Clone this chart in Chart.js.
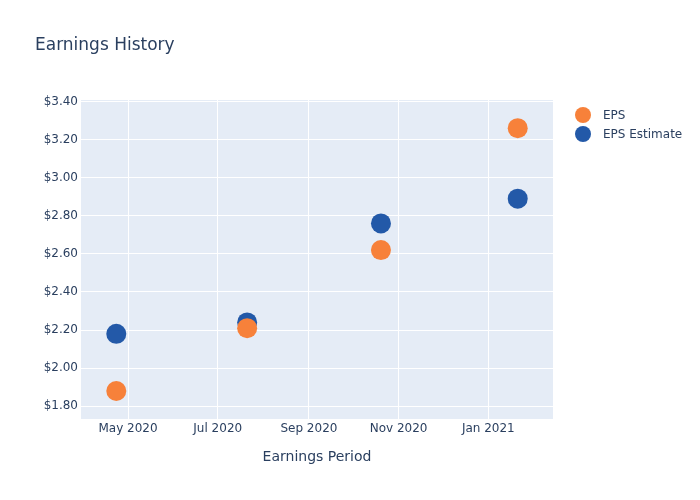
<!DOCTYPE html>
<html>
<head>
<meta charset="utf-8">
<script src="https://cdn.jsdelivr.net/npm/chart.js@4"></script>
<style>
  body{margin:0;background:#fff;}
  #wrap{width:700px;height:500px;}
</style>
</head>
<body>
<div id="wrap"><canvas id="myChart" width="700" height="500"></canvas></div>
<script>
// data
const periods = ['2020-04-23', '2020-07-21', '2020-10-20', '2021-01-21'];
const eps = [1.88, 2.21, 2.62, 3.26];
const epsEstimate = [2.18, 2.24, 2.76, 2.89];
const yTicks = [1.8, 2.0, 2.2, 2.4, 2.6, 2.8, 3.0, 3.2, 3.4];
const xTickDates = ['2020-05-01', '2020-07-01', '2020-09-01', '2020-11-01', '2021-01-01'];
const xTickLabels = ['May 2020', 'Jul 2020', 'Sep 2020', 'Nov 2020', 'Jan 2021'];

const txt = '#2a3f5f';
const font = "'DejaVu Sans', sans-serif";
const ctx = document.getElementById('myChart');

const pts = (vals) => periods.map((d, i) => ({x: Date.parse(d), y: vals[i]}));

// plot background + title + legend
const deco = {
  id: 'deco',
  beforeDraw(chart) {
    const c = chart.ctx, a = chart.chartArea;
    c.save();
    c.fillStyle = '#E5ECF6';
    c.fillRect(a.left, a.top, a.right - a.left, a.bottom - a.top);
    c.restore();
  },
  afterDraw(chart) {
    const c = chart.ctx;
    c.save();
    c.fillStyle = txt;
    c.font = '17px ' + font;
    c.textBaseline = 'middle';
    c.fillText('Earnings History', 35, 46);
    c.font = '12px ' + font;
    chart.data.datasets.forEach((ds, i) => {
      const y = 115 + i * 19;
      c.beginPath();
      c.arc(583, y, 8, 0, Math.PI * 2);
      c.fillStyle = ds.backgroundColor;
      c.fill();
      c.fillStyle = txt;
      c.fillText(ds.label, 603, y + 1);
    });
    c.restore();
  }
};

new Chart(ctx, {
  type: 'scatter',
  data: {
    datasets: [
      {label: 'EPS', data: pts(eps), backgroundColor: '#F7813A', borderWidth: 0, pointRadius: 10, pointHoverRadius: 10},
      {label: 'EPS Estimate', data: pts(epsEstimate), backgroundColor: '#2359A8', borderWidth: 0, pointRadius: 10, pointHoverRadius: 10}
    ]
  },
  options: {
    responsive: false,
    animation: false,
    layout: {padding: {top: 100, right: 147, bottom: 30, left: 0}},
    plugins: {legend: {display: false}, tooltip: {enabled: false}},
    scales: {
      x: {
        type: 'linear',
        min: Date.parse('2020-03-30'),
        max: Date.parse('2021-02-14'),
        afterBuildTicks: (s) => { s.ticks = xTickDates.map(d => ({value: Date.parse(d)})); },
        afterFit: (s) => { s.height = 51; },
        ticks: {
          color: txt, font: {family: font, size: 12}, padding: 3, maxRotation: 0, autoSkip: false,
          callback: (v, i) => xTickLabels[i]
        },
        grid: {color: '#ffffff', lineWidth: 1, drawTicks: false},
        border: {display: false},
        title: {display: true, text: 'Earnings Period', color: txt, font: {family: font, size: 14}}
      },
      y: {
        min: 1.733,
        max: 3.408,
        afterBuildTicks: (s) => { s.ticks = yTicks.map(v => ({value: v})); },
        afterFit: (s) => { s.width = 81; },
        ticks: {
          color: txt, font: {family: font, size: 12}, padding: 3,
          callback: (v) => '$' + v.toFixed(2)
        },
        grid: {color: '#ffffff', lineWidth: 1, drawTicks: false},
        border: {display: false}
      }
    }
  },
  plugins: [deco]
});
</script>
</body>
</html>
